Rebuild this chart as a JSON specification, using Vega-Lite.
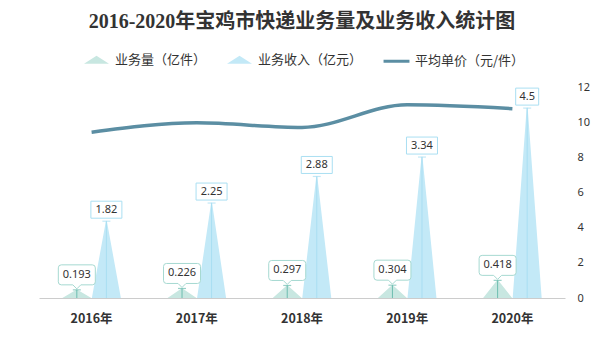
{
  "$schema": "https://vega.github.io/schema/vega-lite/v6.json",
  "width": 526,
  "height": 211,
  "autosize": {"type": "none"},
  "padding": {"left": 39, "top": 87, "right": 40, "bottom": 65},
  "background": "#ffffff",
  "config": {
    "view": {"stroke": null},
    "font": "Noto Sans CJK SC",
    "legend": {
      "orient": "none",
      "legendX": 44,
      "legendY": -41,
      "direction": "horizontal",
      "symbolSize": 576,
      "symbolStrokeWidth": 3,
      "labelFontSize": 13,
      "labelColor": "#333333",
      "labelFont": "Noto Sans CJK SC",
      "labelOffset": 5,
      "columnPadding": 14,
      "symbolOpacity": 1
    }
  },
  "title": {
    "text": "2016-2020年宝鸡市快递业务量及业务收入统计图",
    "font": "Liberation Serif, Noto Sans CJK SC",
    "fontSize": 20,
    "fontWeight": "bold",
    "color": "#333333",
    "anchor": "middle",
    "frame": "group",
    "offset": 14
  },
  "data": {
    "values": [
      {"year": "2016年", "series": "业务量（亿件）", "value": 0.193},
      {"year": "2016年", "series": "业务收入（亿元）", "value": 1.82},
      {"year": "2016年", "series": "平均单价（元/件）", "value": 9.43},
      {"year": "2017年", "series": "业务量（亿件）", "value": 0.226},
      {"year": "2017年", "series": "业务收入（亿元）", "value": 2.25},
      {"year": "2017年", "series": "平均单价（元/件）", "value": 9.96},
      {"year": "2018年", "series": "业务量（亿件）", "value": 0.297},
      {"year": "2018年", "series": "业务收入（亿元）", "value": 2.88},
      {"year": "2018年", "series": "平均单价（元/件）", "value": 9.70},
      {"year": "2019年", "series": "业务量（亿件）", "value": 0.304},
      {"year": "2019年", "series": "业务收入（亿元）", "value": 3.34},
      {"year": "2019年", "series": "平均单价（元/件）", "value": 10.99},
      {"year": "2020年", "series": "业务量（亿件）", "value": 0.418},
      {"year": "2020年", "series": "业务收入（亿元）", "value": 4.5},
      {"year": "2020年", "series": "平均单价（元/件）", "value": 10.77}
    ]
  },
  "encoding": {
    "x": {
      "field": "year",
      "type": "nominal",
      "sort": null,
      "scale": {"paddingInner": 0, "paddingOuter": 0},
      "axis": {
        "title": null,
        "labelAngle": 0,
        "ticks": false,
        "tickSize": 0,
        "domainColor": "#cccccc",
        "labelFontWeight": "bold",
        "labelFontSize": 12.5,
        "labelColor": "#333333",
        "labelPadding": 14,
        "labelFont": "Noto Sans CJK SC"
      }
    }
  },
  "layer": [
    {
      "transform": [{"filter": "datum.series !== '平均单价（元/件）'"}],
      "encoding": {
        "xOffset": {
          "field": "series",
          "type": "nominal",
          "scale": {"domain": ["业务量（亿件）", "业务收入（亿元）"], "paddingInner": 0, "paddingOuter": 0.78}
        },
        "y": {"field": "value", "type": "quantitative", "scale": {"domain": [0, 5]}, "axis": null}
      },
      "layer": [
        {
          "transform": [
            {"fold": ["value"], "as": ["end", "v"]},
            {"impute": "v", "key": "end", "keyvals": ["base", "value"], "groupby": ["year", "series"], "value": 0}
          ],
          "mark": {"type": "trail", "clip": true},
          "encoding": {
            "y": {"field": "v", "type": "quantitative"},
            "size": {"field": "end", "type": "ordinal", "scale": {"domain": ["base", "value"], "range": [29, 0]}, "legend": null},
            "order": {"field": "v", "type": "quantitative"},
            "detail": [{"field": "year"}, {"field": "series"}],
            "color": {"condition": {"test": "datum.series === '业务量（亿件）'", "value": "#c8e7e1"}, "value": "#c3e9f7"}
          }
        },
        {
          "mark": {"type": "rule", "strokeWidth": 1},
          "encoding": {
            "y2": {"datum": 0},
            "color": {"condition": {"test": "datum.series === '业务量（亿件）'", "value": "#6dbdb0"}, "value": "#a9def2"}
          }
        },
        {
          "mark": {"type": "tick", "size": 8, "thickness": 1.2, "orient": "horizontal"},
          "encoding": {
            "color": {"condition": {"test": "datum.series === '业务量（亿件）'", "value": "#6dbdb0"}, "value": "#a9def2"}
          }
        },
        {
          "transform": [{"filter": "datum.series === '业务量（亿件）'"}],
          "mark": {
            "type": "point",
            "shape": "M-15.5,-25H15.5Q18.5,-25 18.5,-22V-8Q18.5,-5 15.5,-5H4L0,-1L-4,-5H-15.5Q-18.5,-5 -18.5,-8V-22Q-18.5,-25 -15.5,-25Z",
            "size": 4,
            "filled": true,
            "fill": "#ffffff",
            "stroke": "#a6d9d1",
            "strokeWidth": 1,
            "opacity": 1
          }
        },
        {
          "transform": [{"filter": "datum.series === '业务收入（亿元）' && length(toString(datum.value)) > 3"}],
          "mark": {
            "type": "point",
            "shape": "M-15.5,-20H15.5V-3H-15.5Z",
            "size": 4,
            "filled": true,
            "fill": "#ffffff",
            "stroke": "#aadff2",
            "strokeWidth": 1,
            "opacity": 1
          }
        },
        {
          "transform": [{"filter": "datum.series === '业务收入（亿元）' && length(toString(datum.value)) <= 3"}],
          "mark": {
            "type": "point",
            "shape": "M-11.5,-20H11.5V-3H-11.5Z",
            "size": 4,
            "filled": true,
            "fill": "#ffffff",
            "stroke": "#aadff2",
            "strokeWidth": 1,
            "opacity": 1
          }
        },
        {
          "transform": [{"filter": "datum.series === '业务量（亿件）'"}],
          "mark": {"type": "text", "dy": -15, "fontSize": 11, "font": "Noto Sans", "color": "#333333"},
          "encoding": {"text": {"field": "value", "type": "quantitative"}}
        },
        {
          "transform": [{"filter": "datum.series === '业务收入（亿元）'"}],
          "mark": {"type": "text", "dy": -11.5, "fontSize": 11, "font": "Noto Sans", "color": "#333333"},
          "encoding": {"text": {"field": "value", "type": "quantitative"}}
        }
      ]
    },
    {
      "transform": [{"filter": "datum.series === '平均单价（元/件）'"}],
      "mark": {"type": "line", "interpolate": "monotone", "strokeWidth": 3.5, "color": "#5b8ea3"},
      "encoding": {
        "y": {
          "field": "value",
          "type": "quantitative",
          "scale": {"domain": [0, 12]},
          "axis": {
            "orient": "right",
            "values": [0, 2, 4, 6, 8, 10, 12],
            "grid": false,
            "domain": false,
            "ticks": false,
            "labelPadding": 12,
            "labelFontSize": 11,
            "labelColor": "#333333",
            "labelFont": "Noto Sans",
            "title": null
          }
        }
      }
    },
    {
      "transform": [{"filter": "false"}],
      "mark": {"type": "point", "filled": true},
      "encoding": {
        "fill": {
          "field": "series",
          "type": "nominal",
          "scale": {"domain": ["业务量（亿件）", "业务收入（亿元）", "平均单价（元/件）"], "range": ["#c8e7e1", "#c3e9f7", "transparent"]},
          "legend": {"title": null}
        },
        "stroke": {
          "field": "series",
          "type": "nominal",
          "scale": {"domain": ["业务量（亿件）", "业务收入（亿元）", "平均单价（元/件）"], "range": ["transparent", "transparent", "#5b8ea3"]},
          "legend": {"title": null}
        },
        "shape": {
          "field": "series",
          "type": "nominal",
          "scale": {"domain": ["业务量（亿件）", "业务收入（亿元）", "平均单价（元/件）"], "range": ["M-1.04,0.33L0,-0.33L1.04,0.33Z", "M-1.04,0.33L0,-0.33L1.04,0.33Z", "M-1.08,0L1.08,0"]},
          "legend": {"title": null}
        }
      }
    }
  ],
  "resolve": {"scale": {"y": "independent"}}
}
